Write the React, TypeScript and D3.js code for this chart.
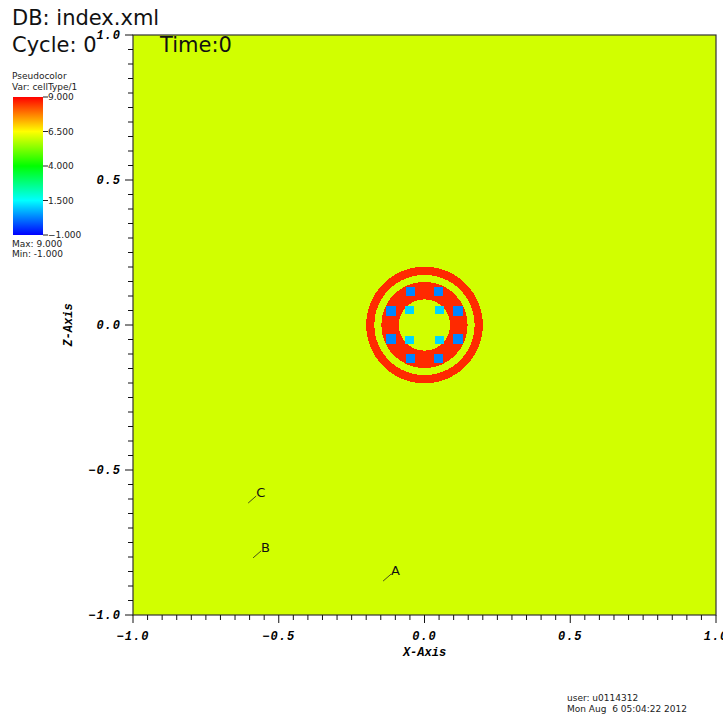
import React, { useEffect, useRef } from 'react';
import * as d3 from 'd3';

// cellType field (data units, domain -1..1)
const fieldValue = 6.05;
const rings = [
  { name: 'outer', r0: 0.172, r1: 0.2, value: 8.6 },
  { name: 'gap', r0: 0.148, r1: 0.172, value: 6.05 },
  { name: 'wall', r0: 0.088, r1: 0.148, value: 8.6 },
  { name: 'core', r0: 0, r1: 0.088, value: 6.05 },
];
const outerX = [-0.048, 0.048, -0.115, 0.115, -0.115, 0.115, -0.048, 0.048];
const outerY = [0.115, 0.115, 0.048, 0.048, -0.048, -0.048, -0.115, -0.115];
const outerValue = 0.3;
const innerX = [-0.052, 0.052, -0.052, 0.052];
const innerY = [0.052, 0.052, -0.052, -0.052];
const innerValue = 1.1;
const cellSize = 0.032;

const pickNames = ['A', 'B', 'C'];
const pickX = [-0.142, -0.588, -0.605];
const pickY = [-0.883, -0.803, -0.614];

const legendTicks = [9, 6.5, 4, 1.5, -1];
const colorStops = ['#0000ff', '#00ffff', '#00ff00', '#ffff00', '#ff0000'];

const W = 723;
const H = 715;

const App: React.FC = () => {
  const svgRef = useRef<SVGSVGElement>(null);

  useEffect(() => {
    if (!svgRef.current) return;
    const svg = d3.select(svgRef.current);
    svg.selectAll('*').remove();

    const x = d3.scaleLinear().domain([-1, 1]).range([133, 716]);
    const y = d3.scaleLinear().domain([-1, 1]).range([615, 35]);
    const color = d3.scaleLinear<string>()
      .domain([-1, 1.5, 4, 6.5, 9])
      .range(colorStops)
      .clamp(true);
    const kx = (v: number) => x(v) - x(0);

    const mono = '"Liberation Mono", "DejaVu Sans Mono", monospace';
    const sans = '"DejaVu Sans", "Liberation Sans", sans-serif';

    // plot field
    svg.append('rect')
      .attr('x', x(-1)).attr('y', y(1))
      .attr('width', x(1) - x(-1)).attr('height', y(-1) - y(1))
      .attr('fill', color(fieldValue));

    const g = svg.append('g').attr('shape-rendering', 'crispEdges');
    rings.forEach(r => {
      g.append('circle')
        .attr('cx', x(0)).attr('cy', y(0))
        .attr('r', kx(r.r1))
        .attr('fill', color(r.value));
    });
    outerX.forEach((cx, i) => {
      g.append('rect')
        .attr('x', x(cx - cellSize / 2)).attr('y', y(outerY[i] + cellSize / 2))
        .attr('width', kx(cellSize)).attr('height', kx(cellSize))
        .attr('fill', color(outerValue));
    });
    innerX.forEach((cx, i) => {
      g.append('rect')
        .attr('x', x(cx - cellSize * 0.45)).attr('y', y(innerY[i] + cellSize * 0.45))
        .attr('width', kx(cellSize * 0.9)).attr('height', kx(cellSize * 0.9))
        .attr('fill', color(innerValue));
    });

    // pick labels
    pickNames.forEach((n, i) => {
      const px = x(pickX[i]);
      const py = y(pickY[i]);
      svg.append('line')
        .attr('x1', px).attr('y1', py).attr('x2', px + 8).attr('y2', py - 7)
        .attr('stroke', '#222').attr('stroke-width', 0.8);
      svg.append('text')
        .attr('x', px + 8).attr('y', py - 6)
        .attr('font-family', sans).attr('font-size', 13)
        .attr('fill', '#111').text(n);
    });

    // frame
    svg.append('rect')
      .attr('x', x(-1)).attr('y', y(1))
      .attr('width', x(1) - x(-1)).attr('height', y(-1) - y(1))
      .attr('fill', 'none').attr('stroke', '#333').attr('stroke-width', 1.2);

    // ticks
    const minor = d3.range(-1, 1.0001, 0.05);
    const isMajor = (v: number) => Math.abs(v * 2 - Math.round(v * 2)) < 1e-6;
    const axes = svg.append('g').attr('stroke', '#111').attr('stroke-width', 1);
    minor.forEach(v => {
      const len = isMajor(v) ? 8 : 5;
      axes.append('line')
        .attr('x1', x(v)).attr('x2', x(v))
        .attr('y1', y(-1)).attr('y2', y(-1) + len);
      axes.append('line')
        .attr('x1', x(-1)).attr('x2', x(-1) - len)
        .attr('y1', y(v)).attr('y2', y(v));
    });
    const fmt = d3.format('.1f');
    const major = x.ticks(4);
    major.forEach(v => {
      svg.append('text')
        .attr('x', x(v)).attr('y', y(-1) + 25)
        .attr('text-anchor', 'middle')
        .attr('font-family', mono).attr('font-size', 12)
        .attr('font-weight', 'bold').attr('font-style', 'italic')
        .attr('letter-spacing', 1)
        .text(fmt(v).replace('-', '\u2212'));
      svg.append('text')
        .attr('x', x(-1) - 12).attr('y', y(v) + 4)
        .attr('text-anchor', 'end')
        .attr('font-family', mono).attr('font-size', 12)
        .attr('font-weight', 'bold').attr('font-style', 'italic')
        .attr('letter-spacing', 1)
        .text(fmt(v).replace('-', '\u2212'));
    });
    svg.append('text')
      .attr('x', x(0)).attr('y', y(-1) + 41)
      .attr('text-anchor', 'middle')
      .attr('font-family', mono).attr('font-size', 12)
      .attr('font-weight', 'bold').attr('font-style', 'italic')
      .text('X-Axis');
    svg.append('text')
      .attr('transform', `translate(72,${y(0)}) rotate(-90)`)
      .attr('text-anchor', 'middle')
      .attr('font-family', mono).attr('font-size', 12)
      .attr('font-weight', 'bold').attr('font-style', 'italic')
      .text('Z-Axis');

    // annotations
    const big = [
      { t: 'DB: index.xml', x: 12, y: 25 },
      { t: 'Cycle: 0', x: 12, y: 52 },
      { t: 'Time:0', x: 160, y: 52 },
    ];
    big.forEach(b => {
      svg.append('text')
        .attr('x', b.x).attr('y', b.y)
        .attr('font-family', sans).attr('font-size', 21)
        .attr('fill', '#111').text(b.t);
    });

    // legend
    const lx = 13;
    const lw = 30;
    const ly = d3.scaleLinear().domain([-1, 9]).range([235, 97]);
    const defs = svg.append('defs');
    const grad = defs.append('linearGradient')
      .attr('id', 'cbar').attr('x1', 0).attr('y1', 1).attr('x2', 0).attr('y2', 0);
    colorStops.forEach((c, i) => {
      grad.append('stop').attr('offset', i / (colorStops.length - 1)).attr('stop-color', c);
    });
    svg.append('rect')
      .attr('x', lx).attr('y', ly(9))
      .attr('width', lw).attr('height', ly(-1) - ly(9))
      .attr('fill', 'url(#cbar)');
    const small = (t: string, tx: number, ty: number) =>
      svg.append('text')
        .attr('x', tx).attr('y', ty)
        .attr('font-family', sans).attr('font-size', 9)
        .attr('fill', '#222').text(t);
    small('Pseudocolor', 12, 79);
    small('Var: cellType/1', 12, 90);
    legendTicks.forEach(v => {
      svg.append('line')
        .attr('x1', lx + lw).attr('x2', lx + lw + 5)
        .attr('y1', ly(v)).attr('y2', ly(v))
        .attr('stroke', '#222');
      small(d3.format(',.3f')(v), lx + lw + 5, ly(v) + 3);
    });
    small('Max: 9.000', 12, 247);
    small('Min: -1.000', 12, 257);

    small('user: u0114312', 567, 701);
    small('Mon Aug  6 05:04:22 2012', 567, 712).attr('xml:space', 'preserve');
  }, []);

  return (
    <svg
      ref={svgRef}
      width={W}
      height={H}
      style={{ position: 'absolute', left: 0, top: 0, background: '#fff' }}
    />
  );
};

export default App;
